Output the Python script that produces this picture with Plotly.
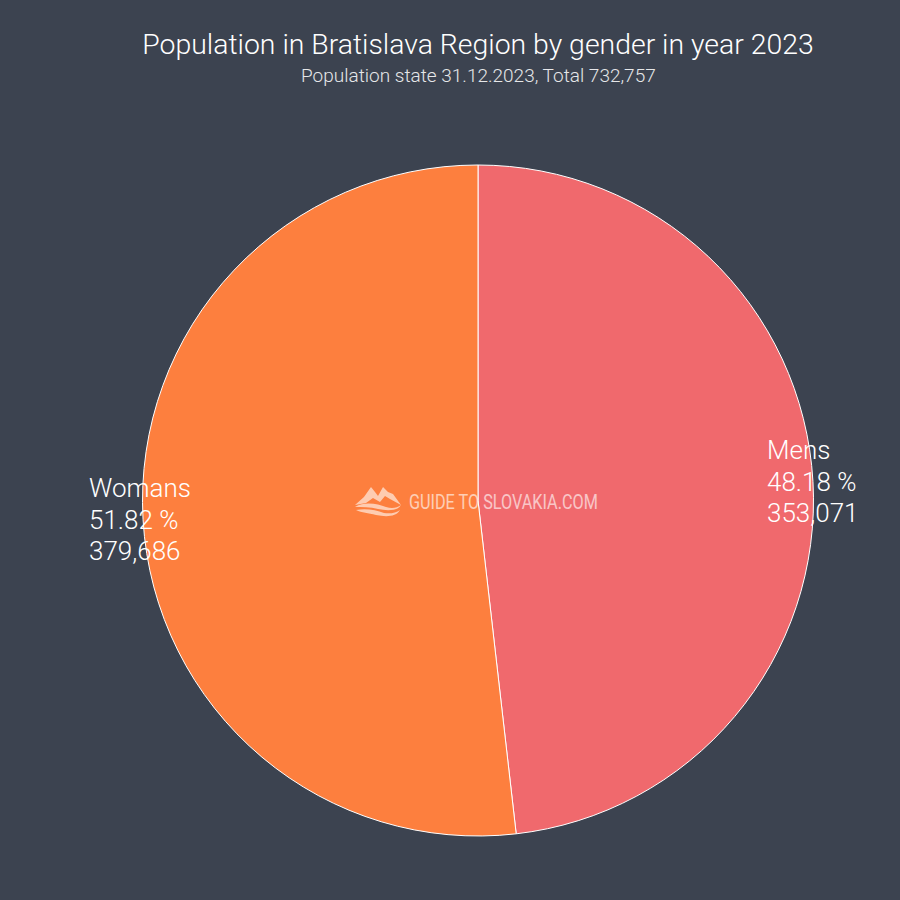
import plotly.graph_objects as go

labels = ["Mens", "Womans"]
values = [353071, 379686]
percents = ["48.18 %", "51.82 %"]
colors = ["#F0696D", "#FD7F3E"]
label_x = [767, 89]
label_y = [449, 487]

BG = "#3C4350"
FONT = "Roboto"
LINE_GAP = 31.5

fig = go.Figure()
fig.add_trace(go.Pie(
    labels=labels,
    values=values,
    sort=False,
    direction="clockwise",
    rotation=0,
    textinfo="none",
    hoverinfo="label+percent+value",
    showlegend=False,
    marker=dict(colors=colors, line=dict(color="#FFFFFF", width=1)),
    domain=dict(x=[142.5 / 900, 813.5 / 900], y=[64 / 900, 735 / 900]),
))

# slice labels sit over the rim of the pie
for i in range(len(labels)):
    rows = [labels[i], percents[i], f"{values[i]:,}"]
    for j in range(3):
        fig.add_annotation(
            x=(label_x[i] - 2) / 900, y=1 - (label_y[i] + 1 + j * LINE_GAP) / 900,
            xref="paper", yref="paper", xanchor="left", yanchor="middle",
            showarrow=False, text=rows[j],
            font=dict(family=FONT, size=26, color="#FFFFFF", weight=300),
        )

# watermark
fig.add_annotation(
    x=503.5 / 900, y=1 - 502 / 900, xref="paper", yref="paper",
    showarrow=False, text="GUIDE TO SLOVAKIA.COM", opacity=0.62,
    font=dict(family=FONT, size=20, color="#FFFFFF"),
)
logo = [
    "M 355 505 L 364 497 L 371 487 L 375 492 L 378 496 L 383 487 L 388 492 L 393 494 L 401 505 "
    "L 390 499 L 385 496 L 380 502 L 373 498 L 366 503 Z",
    "M 355 507 C 365 501 378 504 386 507 C 392 509 397 508 401 505 C 398 511 387 511 378 509 C 370 507 362 507 355 507 Z",
    "M 356 510 C 366 508 376 510 384 513 C 390 514 396 513 400 510 C 396 517 386 517 376 515 C 368 513 362 513 356 510 Z",
]

fig.update_layout(
    width=900,
    height=900,
    margin=dict(l=0, r=0, t=0, b=0),
    paper_bgcolor=BG,
    plot_bgcolor=BG,
    font=dict(family=FONT, color="#FFFFFF"),
    title=dict(
        text="Population in Bratislava Region by gender in year 2023",
        x=478 / 900, xanchor="center", y=1 - 44 / 900, yanchor="middle",
        font=dict(family=FONT, size=28.4, color="#FFFFFF", weight=300),
    ),
)
fig.add_annotation(
    x=478 / 900, y=1 - 75 / 900, xref="paper", yref="paper", yanchor="middle",
    showarrow=False,
    text="Population state 31.12.2023, Total 732,757",
    font=dict(family=FONT, size=19, color="#E6E7E9", weight=300),
)
# logo as paths in paper coordinates
for p in logo:
    out = []
    is_x = True
    for tok in p.split():
        if tok.isalpha():
            out.append(tok)
            is_x = True
        else:
            v = float(tok)
            out.append(f"{v / 900:.5f}" if is_x else f"{1 - v / 900:.5f}")
            is_x = not is_x
    fig.add_shape(type="path", path=" ".join(out), xref="paper", yref="paper",
                  line_width=0, fillcolor="rgba(255,255,255,0.6)")

# no page margin, and squeeze the watermark to the condensed width of the original
post = """
document.body.style.margin = '0';
document.querySelectorAll('.annotation-text').forEach(function (t) {
    if (t.textContent.indexOf('GUIDE') === 0) {
        t.setAttribute('textLength', '189');
        t.setAttribute('lengthAdjust', 'spacingAndGlyphs');
    }
});
"""
fig.write_html("out.html", post_script=post, config=dict(displayModeBar=False))
